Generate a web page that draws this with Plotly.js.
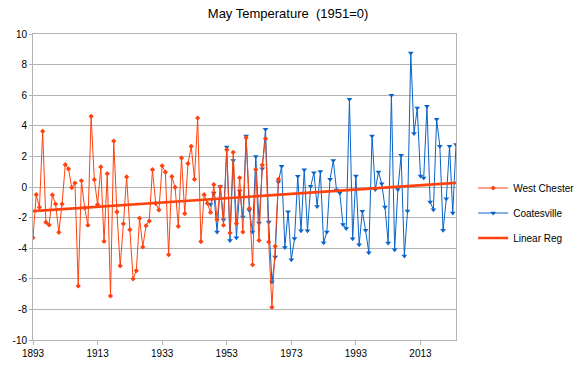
<!DOCTYPE html>
<html><head><meta charset="utf-8">
<script src="https://cdn.plot.ly/plotly-3.0.1.min.js"></script>
<style>html,body{margin:0;padding:0;background:#fff}#chart{width:582px;height:366px}</style>
</head><body><div id="chart"></div>
<script>
const wcStart = 1893;
const westChester = [-3.31,-0.5,-1.33,3.64,-2.31,-2.48,-0.52,-1.11,-2.96,-1.11,
 1.46,1.18,-0.04,0.26,-6.47,0.41,-1.37,-2.5,4.62,0.48,
 -1.15,1.31,-3.55,0.87,-7.12,3.0,-1.63,-5.15,-2.41,0.66,
 -2.79,-6.0,-5.47,-2.04,-3.92,-2.53,-2.23,1.13,-1.07,-1.5,
 1.39,0.97,-4.42,0.68,-0.02,-2.57,1.9,-1.74,1.53,2.66,
 0.5,4.51,-3.57,-0.5,-1.07,-1.66,0.16,-2.13,0,-2.5,
 2.43,-3.0,2.27,-2.38,0.6,-2.94,3.22,-1.4,-5.08,1.14,
 -3.49,1.43,3.16,-3.59,-7.86,-3.88,0.5];
const coStart = 1948;
const coatesville = [-1.15,-0.39,-2.94,0.04,-2.14,2.61,-3.49,1.74,-3.32,-0.26,
 -1.96,3.33,-1.53,-2.94,2.0,-2.35,1.2,3.77,-2.29,-6.21,
 -4.58,0.33,1.36,-3.95,-1.61,-4.75,-3.36,0.71,-2.86,1.13,
 -2.86,0.05,0.93,-1.28,1.02,-3.65,-2.94,0.51,1.73,-0.2,
 -0.39,-2.45,-2.72,5.73,-3.39,0.72,-3.77,-1.59,-2.83,-4.29,
 3.33,-0.17,0.98,0.22,-1.31,-3.66,5.99,-4.1,-0.17,2.07,
 -4.51,-1.57,8.76,3.49,5.16,0.72,0.59,5.27,-0.98,-1.48,
 4.42,2.66,-2.83,-0.76,2.66,-1.7,2.77];
const regYears = [1893, 2024];
const regValues = [-1.58, 0.27];
const xTicks = [1893,1913,1933,1953,1973,1993,2013];
const yTicks = [-10,-8,-6,-4,-2,0,2,4,6,8,10];

const wcYears = westChester.map((_, i) => wcStart + i);
const coYears = coatesville.map((_, i) => coStart + i);

const red = '#ff420e', blue = '#0a64c8', grid = '#b3b3b3';
const traces = [
 {x: coYears, y: coatesville, name: 'Coatesville', mode: 'lines+markers', legendrank: 2,
  legendgroup: 'b',
  line: {color: blue, width: 1}, marker: {symbol: 'triangle-down', size: 5, color: blue}},
 {x: wcYears, y: westChester, name: 'West Chester', mode: 'lines+markers', legendrank: 1,
  legendgroup: 'a',
  line: {color: red, width: 1}, marker: {symbol: 'diamond', size: 4, color: red}},
 {x: regYears, y: regValues, name: 'Linear Reg', mode: 'lines', legendrank: 3,
  legendgroup: 'c',
  line: {color: red, width: 2.6}}
];
const layout = {
 width: 582, height: 366,
 margin: {l: 32.5, r: 126, t: 34, b: 26, pad: 0, autoexpand: false},
 paper_bgcolor: '#fff', plot_bgcolor: '#fff',
 font: {family: 'Liberation Sans, Arial, sans-serif', size: 10, color: '#000'},
 title: {text: 'May Temperature\u00a0 (1951=0)', x: 0.495, xref: 'container', xanchor: 'center',
  y: 0.962, yref: 'container', yanchor: 'middle', font: {size: 13, color: '#000'}},
 showlegend: true,
 legend: {x: 0.813, xref: 'container', xanchor: 'left', y: 0.415, yanchor: 'middle', traceorder: 'grouped',
  tracegroupgap: 6, font: {size: 10}, bgcolor: 'rgba(0,0,0,0)'},
 xaxis: {range: [1893, 2024], tickmode: 'array', tickvals: xTicks, ticktext: xTicks.map(String),
  showgrid: false, zeroline: false, showline: true, linecolor: grid, linewidth: 1, mirror: true,
  ticks: 'outside', ticklen: 4, tickcolor: grid, tickfont: {size: 10}},
 yaxis: {range: [-10, 10], tickmode: 'array', tickvals: yTicks, ticktext: yTicks.map(String),
  showgrid: true, gridcolor: grid, gridwidth: 1, zeroline: false, showline: true, linecolor: grid,
  linewidth: 1, mirror: true, ticks: 'outside', ticklen: 3, tickcolor: grid, tickfont: {size: 10}}
};
Plotly.newPlot('chart', traces, layout, {displayModeBar: false, staticPlot: true});
</script></body></html>
